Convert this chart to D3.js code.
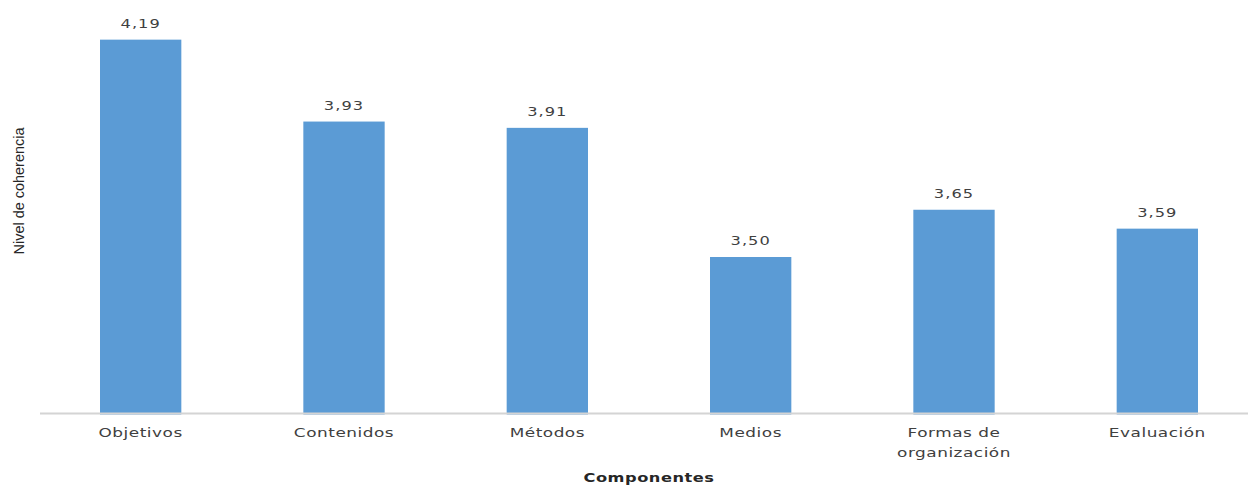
<!DOCTYPE html>
<html>
<head>
<meta charset="utf-8">
<script src="https://cdn.jsdelivr.net/npm/d3@7/dist/d3.min.js"></script>
<style>
  html, body { margin: 0; padding: 0; background: #fff; }
  svg { display: block; }
</style>
</head>
<body>
<div id="chart"></div>
<script>
// Nivel de coherencia por componente
const categories = ["Objetivos", "Contenidos", "Métodos", "Medios", "Formas de organización", "Evaluación"];
const categoryLines = [["Objetivos"], ["Contenidos"], ["Métodos"], ["Medios"], ["Formas de", "organización"], ["Evaluación"]];
const values = [4.19, 3.93, 3.91, 3.50, 3.65, 3.59];
const valueLabels = ["4,19", "3,93", "3,91", "3,50", "3,65", "3,59"];
const yDomain = [3, 4.2];

const width = 1248, height = 487;
const margin = { left: 39, right: -11, bottom: 72.5 };
const baseY = height - margin.bottom;   // bottom of the value range
const pxPerUnit = 315;
const axisY = 413.5;

const svg = d3.select("#chart").append("svg")
  .attr("width", width).attr("height", height);

const x = d3.scaleBand()
  .domain(categories)
  .range([margin.left, width - margin.right])
  .paddingInner(0.6)
  .paddingOuter(0.3);

const y = d3.scaleLinear()
  .domain(yDomain)
  .range([baseY, baseY - (yDomain[1] - yDomain[0]) * pxPerUnit]);

const textColor = "#404040";
const stretch = 1.3;   // wide lettering used throughout the chart

// bars
svg.append("g").selectAll("rect")
  .data(values)
  .join("rect")
  .attr("x", (d, i) => x(categories[i]))
  .attr("width", x.bandwidth())
  .attr("y", d => y(d))
  .attr("height", d => y(yDomain[0]) - y(d))
  .attr("fill", "#5B9BD5");

// category axis line
svg.append("line")
  .attr("x1", margin.left + 1).attr("x2", width)
  .attr("y1", axisY).attr("y2", axisY)
  .attr("stroke", "#d4d4d4").attr("stroke-width", 2);

// value labels
svg.append("g").selectAll("text")
  .data(values)
  .join("text")
  .attr("transform", (d, i) =>
    `translate(${x(categories[i]) + x.bandwidth() / 2},${y(d) - 12}) scale(${stretch},1)`)
  .attr("text-anchor", "middle")
  .attr("font-family", "DejaVu Sans, sans-serif")
  .attr("font-size", 12.5)
  .attr("letter-spacing", 0.8)
  .attr("fill", textColor)
  .text((d, i) => valueLabels[i]);

// category labels
const catG = svg.append("g");
categories.forEach((c, i) => {
  const t = catG.append("text")
    .attr("transform", `translate(${x(c) + x.bandwidth() / 2},437) scale(${stretch},1)`)
    .attr("text-anchor", "middle")
    .attr("font-family", "DejaVu Sans, sans-serif")
    .attr("font-size", 13)
    .attr("letter-spacing", 0.4)
    .attr("fill", textColor);
  categoryLines[i].forEach((line, k) => {
    t.append("tspan")
      .attr("x", 0)
      .attr("dy", k === 0 ? 0 : 20)
      .text(line);
  });
});

// axis titles
svg.append("text")
  .attr("transform", `translate(${(margin.left + width - margin.right) / 2},482) scale(${stretch},1)`)
  .attr("text-anchor", "middle")
  .attr("font-family", "DejaVu Sans, sans-serif")
  .attr("font-weight", "bold")
  .attr("font-size", 12.5)
  .attr("letter-spacing", 0.4)
  .attr("fill", "#262626")
  .text("Componentes");

svg.append("text")
  .attr("transform", "translate(24,191) rotate(-90)")
  .attr("text-anchor", "middle")
  .attr("font-family", "Liberation Sans Narrow, Liberation Sans, Arial, sans-serif")
  .attr("font-size", 14)
  .attr("textLength", 127)
  .attr("lengthAdjust", "spacingAndGlyphs")
  .attr("fill", "#262626")
  .text("Nivel de coherencia");
</script>
</body>
</html>
